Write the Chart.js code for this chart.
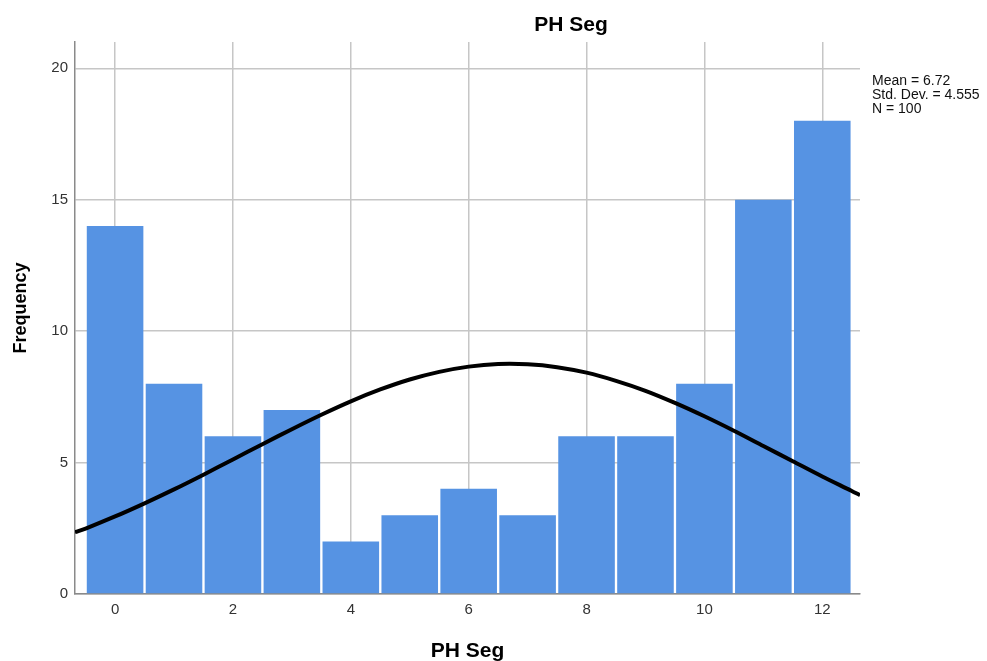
<!DOCTYPE html>
<html>
<head>
<meta charset="utf-8">
<title>PH Seg</title>
<script src="https://cdn.jsdelivr.net/npm/chart.js@4.4.1/dist/chart.umd.min.js"></script>
<style>
    html, body { margin: 0; padding: 0; background: #ffffff; }
    #wrap { width: 987px; height: 661px; }
</style>
</head>
<body>
<div id="wrap"><canvas id="hist" width="987" height="661"></canvas></div>
<script>
// Histogram bins (PH Seg value) and their counts
const binValues = [0, 1, 2, 3, 4, 5, 6, 7, 8, 9, 10, 11, 12];
const frequencies = [14, 8, 6, 7, 2, 3, 4, 3, 6, 6, 8, 15, 18];

// Normal curve
const curveX = [-0.68, -0.5, 0, 0.5, 1, 1.5, 2, 2.5, 3, 3.5, 4, 4.5, 5, 5.5, 6, 6.5,
                7, 7.5, 8, 8.5, 9, 9.5, 10, 10.5, 11, 11.5, 12, 12.5, 12.64];
const curveY = [2.35, 2.49, 2.95, 3.45, 3.98, 4.54, 5.12, 5.70, 6.27, 6.82, 7.33, 7.78, 8.16, 8.45, 8.65, 8.75,
                8.74, 8.63, 8.42, 8.11, 7.73, 7.27, 6.76, 6.21, 5.63, 5.05, 4.47, 3.92, 3.76];

// Axis ticks
const xTicks = [0, 2, 4, 6, 8, 10, 12];
const yTicks = [0, 5, 10, 15, 20];

const statsLines = ['Mean = 6.72', 'Std. Dev. = 4.555', 'N = 100'];

const FONT = "'Liberation Sans', Arial, sans-serif";
Chart.defaults.font.family = FONT;

// Titles and the stats box, drawn straight on the canvas
const textPlugin = {
    id: 'spssText',
    afterDraw(chart) {
        const ctx = chart.ctx;
        const area = chart.chartArea;
        ctx.save();
        ctx.fillStyle = '#000000';
        ctx.textBaseline = 'alphabetic';

        ctx.font = 'bold 21px ' + FONT;
        ctx.textAlign = 'center';
        ctx.fillText('PH Seg', 571, 31);
        ctx.fillText('PH Seg', (area.left + area.right) / 2, 657);

        ctx.save();
        ctx.translate(25.5, 308);
        ctx.rotate(-Math.PI / 2);
        ctx.font = 'bold 18px ' + FONT;
        ctx.fillText('Frequency', 0, 0);
        ctx.restore();

        ctx.font = '14px ' + FONT;
        ctx.textAlign = 'left';
        ctx.fillStyle = '#111111';
        statsLines.forEach((line, i) => {
            ctx.fillText(line, area.right + 12, 85 + i * 14);
        });
        ctx.restore();
    }
};

const ctx = document.getElementById('hist').getContext('2d');
new Chart(ctx, {
    type: 'bar',
    data: {
        datasets: [
            {
                type: 'line',
                data: curveX.map((x, i) => ({ x: x, y: curveY[i] })),
                borderColor: '#000000',
                borderWidth: 4,
                pointRadius: 0,
                tension: 0.3,
                fill: false,
                order: 0
            },
            {
                type: 'bar',
                data: binValues.map((x, i) => ({ x: x, y: frequencies[i] })),
                backgroundColor: '#5693e3',
                borderWidth: 0,
                barPercentage: 0.96,
                categoryPercentage: 1,
                order: 1
            }
        ]
    },
    options: {
        responsive: false,
        animation: false,
        layout: { padding: { top: 42, right: 127, left: 0, bottom: 0 } },
        plugins: {
            legend: { display: false },
            tooltip: { enabled: false }
        },
        scales: {
            x: {
                type: 'linear',
                min: -0.68,
                max: 12.64,
                offset: false,
                afterBuildTicks: scale => { scale.ticks = xTicks.map(v => ({ value: v })); },
                afterFit: scale => { scale.height = 67; },
                grid: { color: '#c6c6c6', lineWidth: 1.5, drawTicks: false, offset: false },
                border: { color: '#8a8a8a', width: 1.5 },
                ticks: { color: '#333333', font: { size: 15 }, padding: 7, maxRotation: 0 }
            },
            y: {
                min: 0,
                max: 21,
                afterBuildTicks: scale => { scale.ticks = yTicks.map(v => ({ value: v })); },
                afterFit: scale => { scale.width = 75; },
                grid: { color: '#c6c6c6', lineWidth: 1.5, drawTicks: false },
                border: { color: '#8a8a8a', width: 1.5 },
                ticks: { color: '#333333', font: { size: 15 }, padding: 7 }
            }
        }
    },
    plugins: [textPlugin]
});
</script>
</body>
</html>
